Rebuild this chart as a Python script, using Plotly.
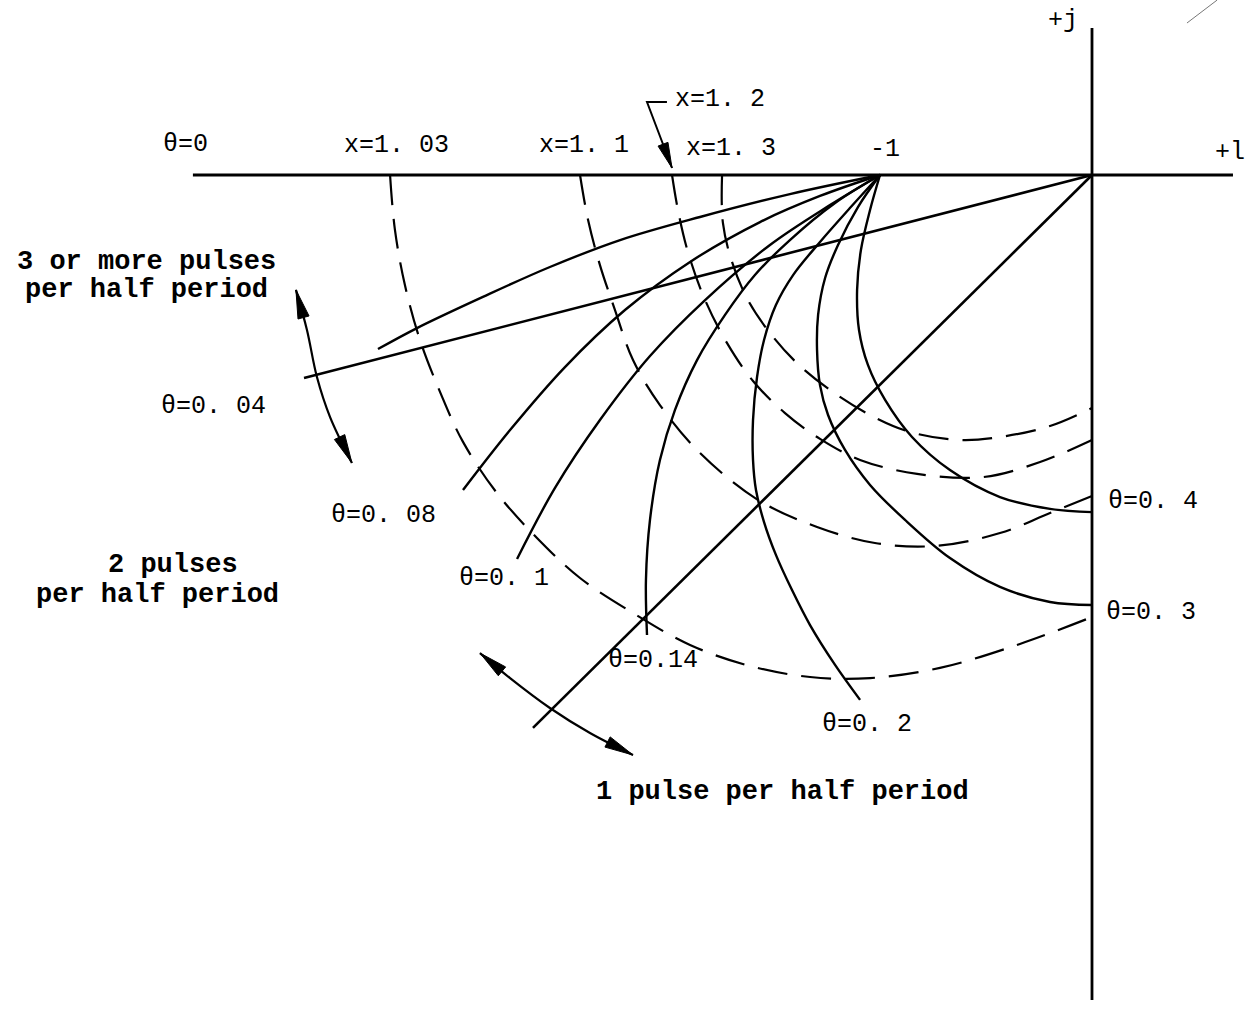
import numpy as np
import plotly.graph_objects as go

# ---- data (complex plane units; -1 on the real axis is the critical point) ----
# solid theta loci fanning out of the -1 point
A_u = [-3.368, -3.184, -2.873, -2.557, -2.226, -1.849, -1.425, -1.0]
A_v = [-0.821, -0.722, -0.575, -0.434, -0.307, -0.198, -0.090, 0.0]

B_u = [-3.717, -1.858, 0.0]          # nearly straight line to the origin (theta=0.04)
B_v = [-0.958, -0.479, 0.0]

C_u = [-2.967, -2.745, -2.486, -2.203, -1.896, -1.566, -1.283, -1.0]
C_v = [-1.486, -1.203, -0.906, -0.637, -0.410, -0.222, -0.099, 0.0]

D_u = [-2.712, -2.533, -2.321, -2.085, -1.825, -1.519, -1.236, -1.0]
D_v = [-1.811, -1.476, -1.156, -0.854, -0.590, -0.330, -0.142, 0.0]

E_u = [-2.099, -2.104, -2.085, -2.038, -1.967, -1.863, -1.731, -1.590, -1.425, -1.212, -1.0]
E_v = [-2.170, -1.910, -1.627, -1.344, -1.108, -0.873, -0.660, -0.472, -0.307, -0.132, 0.0]

F_u = [-1.0, -1.142, -1.283, -1.410, -1.491, -1.547, -1.580, -1.599, -1.599, -1.585, -1.547, -1.491,
       -1.415, -1.330, -1.212, -1.094]
F_v = [0.0, -0.156, -0.316, -0.472, -0.613, -0.778, -0.953, -1.156, -1.344, -1.486, -1.637, -1.792,
       -1.958, -2.123, -2.311, -2.476]

G_u = [-1.0, -1.104, -1.198, -1.259, -1.292, -1.297, -1.283, -1.245, -1.165, -1.047, -0.882, -0.670, -0.434, -0.198, 0.0]
G_v = [0.0, -0.151, -0.330, -0.486, -0.660, -0.825, -0.991, -1.132, -1.297, -1.462, -1.627, -1.807, -1.943, -2.014, -2.028]

H_u = [-1.0, -1.047, -1.090, -1.108, -1.099, -1.057, -0.976, -0.849, -0.670, -0.434, -0.198, 0.0]
H_v = [0.0, -0.165, -0.354, -0.542, -0.731, -0.896, -1.061, -1.236, -1.392, -1.519, -1.575, -1.590]

# dashed constant-x loci
X103_u = [-3.311, -3.288, -3.241, -3.170, -3.075, -2.967, -2.807, -2.618, -2.415, -2.165, -1.896, -1.613,
          -1.330, -1.047, -0.717, -0.340, 0.0]
X103_v = [0.0, -0.259, -0.519, -0.778, -1.024, -1.259, -1.500, -1.712, -1.901, -2.066, -2.217, -2.316,
          -2.368, -2.373, -2.325, -2.212, -2.085]

X11_u = [-2.415, -2.377, -2.321, -2.250, -2.165, -2.038, -1.849, -1.575, -1.297, -1.024, -0.741, -0.434, -0.198, 0.0]
X11_v = [0.0, -0.212, -0.425, -0.637, -0.873, -1.085, -1.311, -1.533, -1.660, -1.736, -1.750, -1.689, -1.594, -1.514]

X12_u = [-1.981, -1.953, -1.906, -1.825, -1.722, -1.599, -1.448, -1.283, -1.094, -0.825, -0.514, -0.245, 0.0]
X12_v = [0.0, -0.165, -0.363, -0.590, -0.792, -0.972, -1.123, -1.245, -1.344, -1.410, -1.425, -1.354, -1.250]

X13_u = [-1.745, -1.741, -1.698, -1.623, -1.519, -1.392, -1.236, -1.047, -0.858, -0.623, -0.434, -0.198, 0.0]
X13_v = [0.0, -0.226, -0.410, -0.590, -0.745, -0.887, -1.014, -1.132, -1.212, -1.250, -1.236, -1.184, -1.099]

# 45-degree boundary line, axes
L45_u = [0.0, -2.637]
L45_v = [0.0, -2.608]
RE_u = [-4.241, 0.665]
RE_v = [0.0, 0.0]
IM_u = [0.0, 0.0]
IM_v = [0.693, -3.892]

# double-headed region arrows and pointer
ARR1_u = [-3.755, -3.703, -3.656, -3.594, -3.491]
ARR1_v = [-0.542, -0.731, -0.953, -1.142, -1.358]
ARR2_u = [-2.887, -2.745, -2.557, -2.368, -2.165]
ARR2_v = [-2.255, -2.373, -2.514, -2.632, -2.736]
PTR_u = [-2.005, -2.099, -1.981]
PTR_v = [0.344, 0.344, 0.033]
SPECK_u = [0.448, 0.590]
SPECK_v = [0.717, 0.825]

# labels
LBL_text = ["θ=0", "x=1. 03", "x=1. 1", "x=1. 2", "x=1. 3", "-1", "+j", "+l",
            "θ=0. 04", "θ=0. 08", "θ=0. 1", "θ=0.14", "θ=0. 2", "θ=0. 4", "θ=0. 3"]
LBL_u = [-4.274, -3.283, -2.396, -1.755, -1.703, -0.976, -0.137, 0.651,
         -4.146, -3.344, -2.774, -2.071, -1.061, 0.288, 0.278]
LBL_v = [0.142, 0.137, 0.137, 0.354, 0.127, 0.118, 0.731, 0.104,
         -1.094, -1.604, -1.901, -2.288, -2.594, -1.542, -2.066]

REG_text = ["3 or more pulses", "per half period", "2 pulses", "per half period", "1 pulse per half period"]
REG_u = [-4.458, -4.458, -4.335, -4.406, -1.458]
REG_v = [-0.410, -0.542, -1.840, -1.981, -2.910]

# ---- figure ----
fig = go.Figure()
INK = "#000000"


def curve(u, v, dash=None, width=2.4, shape="spline", color=INK):
    fig.add_trace(go.Scatter(x=u, y=v, mode="lines",
                             line=dict(color=color, width=width, dash=dash, shape=shape, smoothing=1.0),
                             hoverinfo="skip", showlegend=False))


def head(u, v, at_end=True, L=0.135, W=0.027):
    if at_end:
        tip = np.array([u[-1], v[-1]]); prev = np.array([u[-2], v[-2]])
    else:
        tip = np.array([u[0], v[0]]); prev = np.array([u[1], v[1]])
    d = tip - prev
    d = d / np.linalg.norm(d)
    n = np.array([-d[1], d[0]])
    base = tip - L * d
    p1 = base + W * n
    p2 = base - W * n
    fig.add_trace(go.Scatter(x=[tip[0], p1[0], p2[0], tip[0]], y=[tip[1], p1[1], p2[1], tip[1]],
                             mode="lines", fill="toself", fillcolor=INK,
                             line=dict(color=INK, width=1), hoverinfo="skip", showlegend=False))


# axes
curve(RE_u, RE_v, width=2.8, shape="linear")
curve(IM_u, IM_v, width=2.8, shape="linear")

# solid loci
for u, v in [(A_u, A_v), (C_u, C_v), (D_u, D_v), (E_u, E_v), (F_u, F_v), (G_u, G_v), (H_u, H_v)]:
    curve(u, v, width=2.4)
curve(B_u, B_v, width=2.6, shape="linear")
curve(L45_u, L45_v, width=2.6, shape="linear")

# dashed loci
for u, v in [(X103_u, X103_v), (X11_u, X11_v), (X12_u, X12_v), (X13_u, X13_v)]:
    curve(u, v, dash="30px,14px", width=2.2)

# arrows
curve(ARR1_u, ARR1_v, width=2.2)
head(ARR1_u, ARR1_v, at_end=False)
head(ARR1_u, ARR1_v, at_end=True)
curve(ARR2_u, ARR2_v, width=2.2)
head(ARR2_u, ARR2_v, at_end=False)
head(ARR2_u, ARR2_v, at_end=True)
curve(PTR_u, PTR_v, width=2.0, shape="linear")
head(PTR_u, PTR_v, at_end=True, L=0.12, W=0.025)
curve(SPECK_u, SPECK_v, width=1.0, shape="linear", color="#777777")

for t, u, v in zip(LBL_text, LBL_u, LBL_v):
    fig.add_annotation(x=u, y=v, xref="x", yref="y", text=t, showarrow=False,
                       font=dict(family="Liberation Mono", size=25, color=INK))
for t, u, v in zip(REG_text, REG_u, REG_v):
    fig.add_annotation(x=u, y=v, xref="x", yref="y", text=t, showarrow=False,
                       font=dict(family="Liberation Mono", size=27, color=INK, weight="bold"))

fig.update_layout(
    width=1252, height=1009,
    margin=dict(l=0, r=0, t=0, b=0),
    paper_bgcolor="white", plot_bgcolor="white",
    showlegend=False,
    xaxis=dict(range=[-1092 / 212, 160 / 212], visible=False, fixedrange=True),
    yaxis=dict(range=[-834 / 212, 175 / 212], visible=False, fixedrange=True),
)

fig.write_html("out.html", config={"displayModeBar": False},
               post_script="document.body.style.margin='0';")
